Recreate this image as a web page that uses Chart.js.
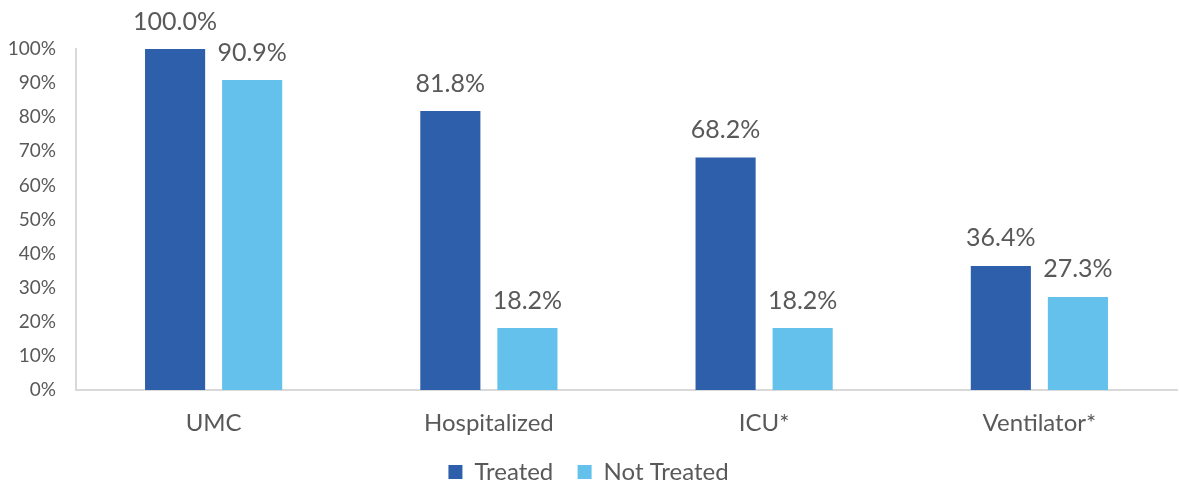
<!DOCTYPE html>
<html>
<head>
<meta charset="utf-8">
<script src="https://cdn.jsdelivr.net/npm/chart.js@4"></script>
<style>
  html, body { margin: 0; padding: 0; background: #fff; }
  #wrap { width: 1179px; height: 485px; position: relative; }
</style>
</head>
<body>
<div id="wrap"><canvas id="grafico"></canvas></div>
<script>
const categorias = ['UMC', 'Hospitalized', 'ICU*', 'Ventilator*'];
const tratados = [100.0, 81.8, 68.2, 36.4];
const naoTratados = [90.9, 18.2, 18.2, 27.3];
const ticksY = [0, 10, 20, 30, 40, 50, 60, 70, 80, 90, 100];

const corTexto = '#595959';
const fonte = 'Lato, "Noto Sans", sans-serif';

// rótulos de valor acima de cada barra
const rotulosBarras = {
    id: 'rotulosBarras',
    afterDatasetsDraw(chart) {
        const ctx = chart.ctx;
        ctx.save();
        ctx.font = '25px ' + fonte;
        ctx.fillStyle = corTexto;
        ctx.textAlign = 'center';
        ctx.textBaseline = 'bottom';
        chart.data.datasets.forEach((ds, i) => {
            chart.getDatasetMeta(i).data.forEach((bar, j) => {
                ctx.fillText(ds.data[j].toFixed(1) + '%', bar.x, bar.y - 15);
            });
        });
        ctx.restore();
    }
};

new Chart(document.getElementById('grafico'), {
    type: 'bar',
    data: {
        labels: categorias,
        datasets: [
            { label: 'Treated', data: tratados, backgroundColor: '#2E5FAB', categoryPercentage: 0.56, barPercentage: 0.78 },
            { label: 'Not Treated', data: naoTratados, backgroundColor: '#63C1EC', categoryPercentage: 0.56, barPercentage: 0.78 }
        ]
    },
    options: {
        responsive: true,
        maintainAspectRatio: false,
        animation: false,
        layout: { padding: { top: 49, right: 2, left: 0, bottom: -9 } },
        plugins: {
            tooltip: { enabled: false },
            legend: {
                position: 'bottom',
                labels: {
                    color: corTexto,
                    font: { size: 24, family: fonte, lineHeight: 1 },
                    boxWidth: 14,
                    boxHeight: 14,
                    padding: 12,
                    // espaço extra entre os dois itens da legenda
                    generateLabels(chart) {
                        const itens = Chart.defaults.plugins.legend.labels.generateLabels(chart);
                        itens[0].text += '  ';
                        return itens;
                    }
                }
            }
        },
        scales: {
            x: {
                grid: { display: false },
                border: { color: '#D9D9D9', width: 2 },
                ticks: { color: corTexto, font: { size: 24, family: fonte, lineHeight: 1 }, padding: 13 }
            },
            y: {
                min: 0,
                max: 100,
                afterBuildTicks(axis) { axis.ticks = ticksY.map(v => ({ value: v })); },
                afterFit(axis) { axis.width = 76; },
                grid: { display: false, drawTicks: false },
                border: { color: '#D9D9D9', width: 2 },
                ticks: {
                    color: corTexto,
                    font: { size: 19, family: fonte },
                    padding: 20,
                    callback: v => v + '%'
                }
            }
        }
    },
    plugins: [rotulosBarras]
});
</script>
</body>
</html>
